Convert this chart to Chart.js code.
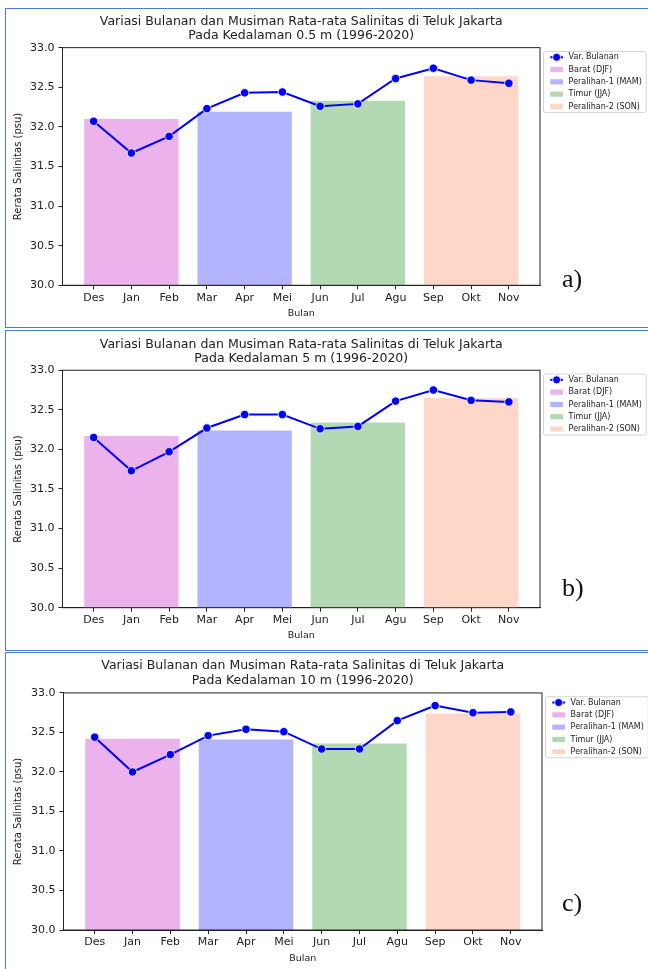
<!DOCTYPE html>
<html lang="id">
<head>
<meta charset="UTF-8">
<title>Variasi Bulanan dan Musiman Salinitas Teluk Jakarta</title>
<script src="https://cdn.jsdelivr.net/npm/chart.js@4.4.1/dist/chart.umd.min.js"></script>
<style>
  body { margin: 0; width: 648px; height: 969px; overflow: hidden; background: #fff; position: relative; }
  .bingkai { position: absolute; left: 5px; width: 700px; box-sizing: border-box; border: 1px solid #4a7bd8; }
  .panel { position: absolute; left: 0; }
  .huruf { position: absolute; left: 562px; font-family: 'Liberation Serif'; font-size: 26px; line-height: 26px; color: #111; }
</style>
</head>
<body>
<div class="bingkai" style="top:8px;height:320px"></div>
<div class="bingkai" style="top:330px;height:321px"></div>
<div class="bingkai" style="top:652px;height:400px"></div>

<canvas id="grafikA" class="panel" width="648" height="318" style="top:9px"></canvas>
<canvas id="grafikB" class="panel" width="648" height="319" style="top:331px"></canvas>
<canvas id="grafikC" class="panel" width="648" height="316" style="top:653px"></canvas>

<div class="huruf" style="top:266px">a)</div>
<div class="huruf" style="top:575px">b)</div>
<div class="huruf" style="top:890px">c)</div>

<script>
// data
const bulan = ['Des', 'Jan', 'Feb', 'Mar', 'Apr', 'Mei', 'Jun', 'Jul', 'Agu', 'Sep', 'Okt', 'Nov'];
const musim = ['Barat (DJF)', 'Peralihan-1 (MAM)', 'Timur (JJA)', 'Peralihan-2 (SON)'];
const bulanTengah = ['Jan', 'Apr', 'Jul', 'Okt'];
const kedalaman = ['0.5 m', '5 m', '10 m'];
const yTicks = [30.0, 30.5, 31.0, 31.5, 32.0, 32.5, 33.0];

const bulanan05 = [32.07, 31.67, 31.88, 32.23, 32.43, 32.44, 32.26, 32.29, 32.61, 32.74, 32.59, 32.55];
const musiman05 = [32.10, 32.19, 32.33, 32.64];
const bulanan5 = [32.15, 31.73, 31.97, 32.27, 32.44, 32.44, 32.26, 32.29, 32.61, 32.75, 32.62, 32.60];
const musiman5 = [32.17, 32.24, 32.34, 32.65];
const bulanan10 = [32.44, 32.00, 32.22, 32.46, 32.54, 32.51, 32.29, 32.29, 32.65, 32.84, 32.75, 32.76];
const musiman10 = [32.42, 32.41, 32.36, 32.74];

const warnaMusim = ['rgb(235,178,235)', 'rgb(179,179,255)', 'rgb(179,217,179)', 'rgb(255,215,201)'];
const teks = '#222';

// kotak di sekeliling area plot (spine matplotlib)
const garisTepi = {
    id: 'garisTepi',
    afterDatasetsDraw(chart) {
        const {ctx, chartArea: a} = chart;
        ctx.save();
        ctx.strokeStyle = teks;
        ctx.lineWidth = 1;
        ctx.strokeRect(a.left, a.top, a.right - a.left, a.bottom - a.top);
        ctx.restore();
    }
};

// legenda di luar kanan atas, gaya matplotlib
const legendaKotak = {
    id: 'legendaKotak',
    afterDraw(chart) {
        const {ctx, chartArea} = chart;
        const ds = chart.data.datasets;
        ctx.save();
        ctx.font = '8px "DejaVu Sans"';
        const x0 = chartArea.right + 3, y0 = chartArea.top + 3.3;
        const lebar = 7.3 + 12.7 + 5.6 + Math.max(...ds.map(d => ctx.measureText(d.label).width)) + 4;
        const baris = 12.3;
        const tinggi = 6.3 + baris * (ds.length - 1) + 5.5;
        ctx.fillStyle = 'rgba(255,255,255,0.8)';
        ctx.strokeStyle = '#d4d4d4';
        ctx.lineWidth = 1;
        ctx.beginPath();
        ctx.roundRect(x0 + 0.5, y0 + 0.5, lebar, tinggi, 2);
        ctx.fill();
        ctx.stroke();
        ds.forEach((d, i) => {
            const cy = y0 + 6.3 + i * baris;
            const hx = x0 + 7.3;
            if (d.type === 'line') {
                ctx.strokeStyle = d.borderColor;
                ctx.lineWidth = 2;
                ctx.beginPath();
                ctx.moveTo(hx, cy);
                ctx.lineTo(hx + 12.7, cy);
                ctx.stroke();
                ctx.fillStyle = d.pointBackgroundColor;
                ctx.strokeStyle = '#fff';
                ctx.lineWidth = 0.8;
                ctx.beginPath();
                ctx.arc(hx + 6.35, cy, 4, 0, Math.PI * 2);
                ctx.fill();
                ctx.stroke();
            } else {
                ctx.fillStyle = d.backgroundColor;
                ctx.fillRect(hx, cy - 2.6, 12.7, 5.2);
            }
            ctx.fillStyle = teks;
            ctx.textBaseline = 'middle';
            ctx.textAlign = 'left';
            ctx.fillText(d.label, hx + 12.7 + 5.6, cy);
        });
        ctx.restore();
    }
};

function buatGrafik(id, nilaiBulanan, nilaiMusim, dalam, p) {
    const datasets = [{
        type: 'line',
        label: 'Var. Bulanan',
        data: nilaiBulanan.map((v, i) => ({x: i, y: v})),
        borderColor: '#0000ff',
        backgroundColor: '#0000ff',
        borderWidth: 2,
        pointRadius: 4.2,
        pointBackgroundColor: '#0000ff',
        pointBorderColor: '#fff',
        pointBorderWidth: 0.8,
        tension: 0,
        order: 0
    }];
    musim.forEach((m, i) => {
        datasets.push({
            type: 'bar',
            label: m,
            data: [{x: bulan.indexOf(bulanTengah[i]), y: nilaiMusim[i]}],
            backgroundColor: warnaMusim[i],
            borderWidth: 0,
            grouped: false,
            categoryPercentage: 1,
            barPercentage: 2.5,   // lebar batang = 2.5 bulan
            order: 1
        });
    });

    return new Chart(document.getElementById(id), {
        type: 'line',
        data: {datasets},
        plugins: [garisTepi, legendaKotak],
        options: {
            responsive: false,
            animation: false,
            layout: {padding: {left: 0, right: p.kanan, top: 0, bottom: 0}},
            font: {family: '"DejaVu Sans"'},
            plugins: {
                legend: {display: false},
                tooltip: {enabled: false},
                title: {
                    display: true,
                    fullSize: false,
                    text: ['Variasi Bulanan dan Musiman Rata-rata Salinitas di Teluk Jakarta',
                           'Pada Kedalaman ' + dalam + ' (1996-2020)'],
                    font: {family: '"DejaVu Sans"', size: 12.5, weight: 'normal', lineHeight: 1.15},
                    color: teks,
                    padding: {top: p.judulAtas, bottom: p.judulBawah}
                }
            },
            scales: {
                x: {
                    type: 'linear',
                    offset: false,
                    // batas sumbu seperti margin otomatis matplotlib
                    min: -0.825,
                    max: bulan.length - 1 + 0.825,
                    afterBuildTicks: s => { s.ticks = bulan.map((_, i) => ({value: i})); },
                    afterFit: s => { s.height = p.xTinggi; },
                    ticks: {
                        callback: v => bulan[v],
                        font: {family: '"DejaVu Sans"', size: 11},
                        color: teks,
                        padding: 2,
                        autoSkip: false,
                        maxRotation: 0
                    },
                    grid: {offset: false, drawOnChartArea: false, tickLength: 4, color: teks},
                    border: {color: teks},
                    title: {
                        display: true,
                        text: 'Bulan',
                        font: {family: '"DejaVu Sans"', size: 9.5},
                        color: teks,
                        padding: {top: 0, bottom: p.bulanBawah}
                    }
                },
                y: {
                    min: 30,
                    max: 33,
                    beginAtZero: false,
                    afterBuildTicks: s => { s.ticks = yTicks.map(v => ({value: v})); },
                    afterFit: s => { s.width = p.kiri; },
                    ticks: {
                        callback: v => v.toFixed(1),
                        font: {family: '"DejaVu Sans"', size: 11},
                        color: teks,
                        padding: 4
                    },
                    grid: {drawOnChartArea: false, tickLength: 4, color: teks},
                    border: {color: teks},
                    title: {
                        display: true,
                        text: 'Rerata Salinitas (psu)',
                        font: {family: '"DejaVu Sans"', size: 10},
                        color: teks,
                        padding: {top: 12.6, bottom: 0}
                    }
                }
            }
        }
    });
}

buatGrafik('grafikA', bulanan05, musiman05, kedalaman[0],
    {kiri: 62.5, kanan: 108, judulAtas: 5.5, judulBawah: 4.4, xTinggi: 41.7, bulanBawah: 8});
buatGrafik('grafikB', bulanan5, musiman5, kedalaman[1],
    {kiri: 62.5, kanan: 108, judulAtas: 6.1, judulBawah: 4.4, xTinggi: 42.3, bulanBawah: 8.6});
buatGrafik('grafikC', bulanan10, musiman10, kedalaman[2],
    {kiri: 63.5, kanan: 106, judulAtas: 5.8, judulBawah: 5.4, xTinggi: 39, bulanBawah: 5});
</script>
</body>
</html>
